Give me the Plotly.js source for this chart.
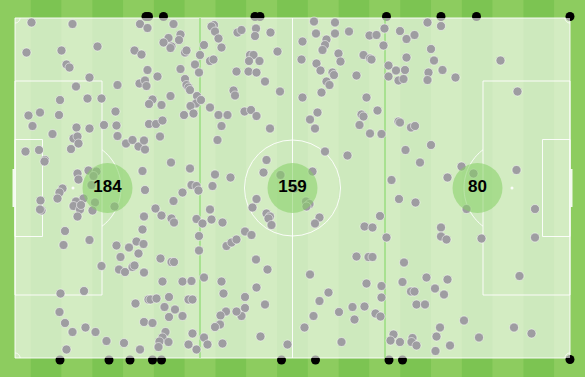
<!DOCTYPE html>
<html>
<head>
<meta charset="utf-8">
<script src="https://cdn.plot.ly/plotly-3.0.1.min.js"></script>
<style>
  html, body { margin: 0; padding: 0; background: #8dcc5f; }
  #chart { width: 585px; height: 377px; }
</style>
</head>
<body>
<div id="chart"></div>
<script>
// Pitch in metres, origin at the bottom-left corner flag.
const PITCH_LENGTH = 111;
const PITCH_WIDTH = 68;

// Thirds of the pitch and the number of actions recorded in each.
const zoneEdges = [0, 37, 74, 111];
const zoneCounts = [184, 159, 80];

// Action locations [x, y] for each third.
const leftThird = [
  [3.3,67.1],[11.5,66.8],[25.0,66.8],[26.5,66.0],[31.7,66.8],[33.1,64.7],[30.7,64.0],[29.7,63.1],[32.8,63.6],[31.3,62.3],
  [31.1,62.0],[34.0,61.1],[34.3,61.5],[16.5,62.3],[2.3,61.1],[9.3,61.5],[23.9,61.5],[25.3,60.7],[10.3,58.7],[10.9,58.1],
  [36.0,58.7],[26.5,57.6],[33.1,57.8],[14.9,56.1],[12.2,54.3],[20.5,54.6],[24.9,54.9],[26.0,55.5],[26.3,54.4],[28.5,56.3],
  [34.0,55.8],[34.3,54.6],[34.7,54.1],[35.0,53.6],[36.8,57.1],[9.0,51.6],[14.5,51.9],[17.3,51.9],[31.1,52.4],[27.5,51.7],
  [26.8,50.8],[29.3,50.6],[36.4,52.4],[36.2,50.9],[35.1,50.4],[5.0,49.1],[2.7,48.5],[8.8,48.6],[20.1,49.3],[33.8,48.6],
  [35.7,48.9],[3.5,46.4],[12.3,46.1],[14.9,45.9],[17.8,46.6],[20.3,46.5],[26.8,46.8],[28.2,46.8],[29.5,47.5],
  [7.5,44.8],[11.7,43.9],[12.5,44.3],[12.7,42.9],[11.2,41.8],[20.5,44.4],[22.2,42.9],[23.5,43.6],[24.7,42.3],[26.0,41.7],
  [25.8,43.5],[29.0,44.3],[2.1,41.3],[4.8,41.6],[6.0,39.6],[5.9,39.3],[12.5,36.9],[12.7,35.7],[14.7,37.5],[16.3,37.3],
  [15.7,36.4],[15.3,34.6],[25.5,37.4],[31.2,39.1],[35.0,37.9],[35.3,34.6],[36.3,34.4],[9.5,33.9],[8.9,33.1],[8.5,31.9],
  [13.7,31.9],[12.2,31.3],[11.7,30.4],[13.0,29.7],[13.2,30.6],[16.0,31.1],[15.5,29.5],[19.9,30.3],[26.0,33.6],[33.5,33.1],
  [31.7,31.4],[36.7,33.5],[5.1,31.5],[5.3,29.5],[5.0,29.7],[12.5,28.3],[28.1,29.9],[29.3,28.5],[25.8,28.3],[31.3,27.9],
  [31.8,27.1],[36.3,27.8],[25.5,25.7],[10.0,25.4],[14.9,23.6],[9.7,22.6],[20.3,22.5],[22.8,22.1],[24.3,23.3],[25.7,22.8],
  [36.8,24.4],
  [24.7,20.9],[21.1,20.2],[17.3,18.4],[20.8,17.7],[22.0,17.2],[23.5,18.2],[23.9,18.5],[25.8,17.1],[29.1,19.9],[31.3,19.2],
  [31.8,19.2],[29.5,15.3],[33.5,15.3],[35.3,15.4],[36.8,21.5],[9.1,12.9],[13.8,13.4],[26.7,11.7],[27.1,11.7],[28.3,11.9],
  [30.8,12.2],[34.7,11.7],[35.5,11.7],[24.1,10.9],[29.9,10.2],[32.0,9.7],[8.9,9.2],[30.8,8.2],[33.5,8.4],[10.0,7.0],
  [14.1,6.1],[11.5,5.2],[16.1,5.2],[25.8,7.2],[27.5,7.0],[30.1,5.2],[29.5,4.1],[28.9,3.3],[30.7,3.2],[35.5,4.9],
  [18.3,3.4],[21.8,3.0],[28.7,2.2],[34.7,2.7],[36.3,1.7],[10.3,1.7],[25.0,1.7]
];

const middleThird = [
  [37.0,60.6],[37.2,51.6],
  [39.8,66.6],[39.3,66.3],[40.0,65.3],[40.7,63.9],[37.8,62.6],[41.3,62.1],[44.5,65.1],[45.3,65.6],[48.2,65.9],[48.0,64.4],
  [51.1,65.1],[52.5,61.3],[47.0,60.6],[47.7,60.6],[46.8,59.4],[48.9,59.4],[39.0,59.4],[39.7,59.7],[44.3,57.3],[46.7,57.3],
  [48.3,57.1],[50.0,55.3],[53.0,53.3],[43.7,53.5],[44.0,52.5],[39.0,50.1],[40.7,48.6],[42.5,48.6],[45.9,49.3],[47.2,49.6],
  [48.3,48.4],[41.3,46.4],[51.0,45.9],[59.8,67.3],[64.0,67.1],[60.2,64.9],[64.0,64.9],[66.8,65.3],[70.9,64.5],[72.3,64.6],
  [73.9,65.9],[57.5,63.3],[62.3,63.7],[62.0,62.6],[61.5,61.6],[73.7,62.5],[57.3,59.7],[60.3,58.9],[64.7,60.9],[65.1,59.3],
  [69.7,60.6],[71.0,59.9],[71.3,59.7],[61.1,57.5],[63.5,57.1],[63.8,56.6],[68.3,56.5],[62.3,55.3],[62.9,54.6],[61.3,53.1],
  [57.5,52.1],[70.3,52.1],[72.5,49.5],[69.3,48.7],[69.7,48.3],[60.5,49.1],[59.0,47.7],[60.0,45.9],[68.9,46.6],
  [71.0,44.9],[73.3,44.8],[40.5,43.6],[62.0,41.3],[66.5,40.5],[50.3,39.6],[49.7,37.1],[53.1,36.6],[59.5,37.3],[40.0,36.7],
  [43.1,36.1],[39.5,34.4],[55.9,33.9],[48.3,31.8],[47.5,30.1],[58.2,31.3],[58.9,30.8],[58.3,30.3],[39.0,29.7],[39.3,27.7],
  [41.5,27.1],[50.3,28.9],[51.0,28.3],[50.7,27.9],[51.3,26.6],[60.9,28.1],[60.0,26.9],[37.5,26.9],[46.0,25.3],[47.3,24.6],
  [73.0,28.4],[69.9,26.3],[71.5,26.1],[42.3,22.4],[43.3,23.1],[44.3,23.7],
  [68.3,20.3],[70.7,20.2],[71.5,20.2],[48.2,19.7],[50.5,17.7],[37.8,16.1],[41.3,15.3],[59.0,16.7],[70.3,14.9],[73.3,14.4],
  [41.7,12.9],[48.3,14.1],[46.0,12.2],[62.7,13.1],[60.9,11.4],[73.3,12.1],[50.0,10.7],[46.0,10.0],[45.3,8.4],[44.3,9.3],
  [42.2,9.3],[41.1,8.5],[41.0,6.7],[40.0,6.2],[64.8,9.2],[67.5,10.2],[69.9,10.3],[59.7,8.4],[67.9,7.7],[72.1,8.9],
  [73.1,8.3],[57.9,6.1],[37.8,4.1],[38.5,2.7],[41.5,2.9],[49.1,4.3],[54.5,2.7],[65.3,3.2]
];

const rightThird = [
  [74.7,58.5],[76.2,57.5],[74.7,56.3],[76.7,55.5],[76.7,47.3],
  [82.5,67.1],[85.2,66.4],[77.0,65.4],[78.3,63.8],[79.9,64.6],[83.2,61.8],[78.3,60.1],[83.8,59.5],[78.0,57.6],[77.7,55.8],
  [82.7,57.1],[82.5,55.6],[85.5,57.6],[88.1,56.1],[97.1,59.5],[100.5,53.3],[77.0,47.1],[79.2,46.1],[80.0,46.4],
  [75.3,35.6],[76.8,31.8],[74.3,24.1],
  [78.1,41.6],[83.2,42.6],[81.0,39.1],[89.3,38.3],[91.7,36.9],[86.5,36.1],[100.3,37.6],[80.1,31.1],[90.3,29.8],[104.0,29.8],
  [85.2,26.1],[85.2,24.3],[86.3,23.7],[93.3,23.9],[104.0,24.1],
  [75.7,4.7],[75.1,3.5],[77.0,3.2],
  [77.8,19.1],[77.5,15.2],[79.2,13.3],[79.9,13.3],[82.3,16.1],[86.5,15.7],[84.0,13.9],[85.8,12.7],[80.3,10.7],[82.0,10.7],
  [100.9,16.4],[89.8,7.5],[85.0,6.1],[84.3,4.3],[92.8,4.1],[99.8,6.1],[103.3,4.9],[79.5,4.0],[79.3,3.2],[80.3,2.5],
  [87.0,2.5],[84.1,1.4]
];

// Actions that ended on the touchlines (ball out of play).
const touchlineActions = [
  [26.2,68.3],[26.7,68.3],[29.7,68.3],[48.0,68.3],[49.0,68.3],[74.3,68.3],[85.2,68.3],[92.3,68.3],[111.0,68.3],
  [9.0,-0.4],[18.8,-0.4],[23.0,-0.4],[27.5,-0.4],[29.3,-0.4],[53.3,-0.4],[60.1,-0.4],[74.8,-0.4],[77.5,-0.4],[111.0,-0.3]
];

// ---------- pitch drawing ----------
const LINE = 'rgba(255,255,255,0.9)';
const GRASS_LIGHT = '#8dcc5f';
const GRASS_DARK = '#7cc452';
const N_STRIPES = 19;

const shapes = [];
for (let i = 0; i < N_STRIPES; i++) {
  shapes.push({
    type: 'rect', xref: 'paper', yref: 'paper', layer: 'below',
    x0: i / N_STRIPES, x1: (i + 1) / N_STRIPES, y0: 0, y1: 1,
    fillcolor: i % 2 ? GRASS_DARK : GRASS_LIGHT, line: { width: 0 }
  });
}

function rect(x0, y0, x1, y1) {
  shapes.push({ type: 'rect', xref: 'x', yref: 'y', layer: 'below', x0, y0, x1, y1,
    line: { color: LINE, width: 1 }, fillcolor: 'rgba(0,0,0,0)' });
}
function seg(x0, y0, x1, y1, w) {
  shapes.push({ type: 'line', xref: 'x', yref: 'y', layer: 'below', x0, y0, x1, y1,
    line: { color: LINE, width: w || 1 } });
}
function arc(cx, cy, r, a0, a1) {
  const n = 40;
  let d = '';
  for (let k = 0; k <= n; k++) {
    const a = (a0 + (a1 - a0) * k / n) * Math.PI / 180;
    d += (k ? ' L ' : 'M ') + (cx + r * Math.cos(a)).toFixed(3) + ',' + (cy + r * Math.sin(a)).toFixed(3);
  }
  shapes.push({ type: 'path', xref: 'x', yref: 'y', layer: 'below', path: d,
    line: { color: LINE, width: 1 } });
}
function spot(cx, cy, r) {
  shapes.push({ type: 'circle', xref: 'x', yref: 'y', layer: 'below',
    x0: cx - r, x1: cx + r, y0: cy - r, y1: cy + r, fillcolor: LINE, line: { width: 0 } });
}

const L = PITCH_LENGTH, W = PITCH_WIDTH, MY = W / 2, MX = L / 2;
const BOX_D = 17.4, BOX_H = 21.4, SIX_D = 5.5, SIX_H = 9.7, SPOT_D = 11.6, CIRCLE_R = 9.6;

rect(0, 0, L, W);
seg(MX, 0, MX, W);
shapes.push({ type: 'circle', xref: 'x', yref: 'y', layer: 'below',
  x0: MX - CIRCLE_R, x1: MX + CIRCLE_R, y0: MY - CIRCLE_R, y1: MY + CIRCLE_R,
  line: { color: LINE, width: 1 } });
rect(0, MY - BOX_H, BOX_D, MY + BOX_H);
rect(L - BOX_D, MY - BOX_H, L, MY + BOX_H);
rect(0, MY - SIX_H, SIX_D, MY + SIX_H);
rect(L - SIX_D, MY - SIX_H, L, MY + SIX_H);
spot(SPOT_D, MY, 0.3);
spot(L - SPOT_D, MY, 0.3);
const arcA = Math.acos((BOX_D - SPOT_D) / CIRCLE_R) * 180 / Math.PI;
arc(SPOT_D, MY, CIRCLE_R, -arcA, arcA);
arc(L - SPOT_D, MY, CIRCLE_R, 180 - arcA, 180 + arcA);
seg(-0.3, MY - 3.8, -0.3, MY + 3.8, 2);
seg(L + 0.3, MY - 3.8, L + 0.3, MY + 3.8, 2);
arc(0, 0, 1, 0, 90);
arc(L, 0, 1, 90, 180);
arc(L, W, 1, 180, 270);
arc(0, W, 1, 270, 360);

// ---------- traces ----------
const allActions = leftThird.concat(middleThird, rightThird);
const zoneCentres = zoneCounts.map((_, i) => (zoneEdges[i] + zoneEdges[i + 1]) / 2);

const traces = [
  {
    type: 'scatter', mode: 'markers', hoverinfo: 'skip',
    x: touchlineActions.map(p => p[0]), y: touchlineActions.map(p => p[1]),
    marker: { size: 9, color: '#000000' }
  },
  {
    type: 'scatter', mode: 'lines', hoverinfo: 'skip',
    x: [0, L, L, 0, 0], y: [0, 0, W, W, 0],
    fill: 'toself', fillcolor: 'rgba(255,255,255,0.62)', line: { width: 0 }
  },
  {
    type: 'scatter', mode: 'lines', hoverinfo: 'skip',
    x: [zoneEdges[1], zoneEdges[1], null, zoneEdges[2], zoneEdges[2]],
    y: [0, W, null, 0, W],
    line: { color: '#7dd65e', width: 1 }
  },
  {
    type: 'scatter', mode: 'markers', hoverinfo: 'skip',
    x: allActions.map(p => p[0]), y: allActions.map(p => p[1]),
    marker: { size: 9, color: '#9e9da1', line: { color: 'rgba(255,255,255,0.85)', width: 0.6 } }
  },
  {
    type: 'scatter', mode: 'markers+text', hoverinfo: 'skip',
    x: zoneCentres, y: zoneCentres.map(() => MY),
    text: zoneCounts.map(String), textposition: 'middle center',
    textfont: { family: 'Liberation Sans, Arial, sans-serif', size: 17, color: '#000000', weight: 'bold' },
    marker: { size: 50, color: 'rgba(133,207,100,0.55)', line: { width: 0 } }
  }
];

const hiddenAxis = { showgrid: false, zeroline: false, showticklabels: false, ticks: '', showline: false, fixedrange: true };

const layout = {
  width: 585, height: 377,
  margin: { l: 0, r: 0, t: 0, b: 0, pad: 0 },
  paper_bgcolor: GRASS_LIGHT, plot_bgcolor: GRASS_LIGHT,
  showlegend: false,
  xaxis: Object.assign({ range: [-3, 114] }, hiddenAxis),
  yaxis: Object.assign({ range: [-3.8, 71.6] }, hiddenAxis),
  shapes: shapes
};

Plotly.newPlot('chart', traces, layout, { staticPlot: true, displayModeBar: false });
</script>
</body>
</html>
